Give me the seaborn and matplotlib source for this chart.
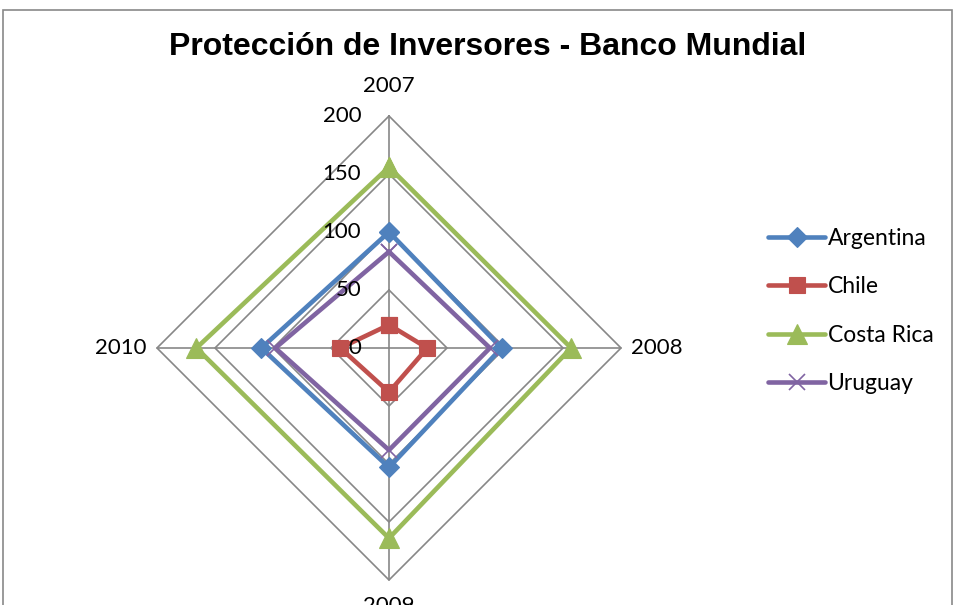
import numpy as np
import pandas as pd
import matplotlib
matplotlib.use("Agg")
import matplotlib.pyplot as plt
from matplotlib.patches import Rectangle
import seaborn as sns

# data
years = ["2007", "2008", "2009", "2010"]
countries = ["Argentina", "Chile", "Costa Rica", "Uruguay"]
argentina = [100, 97, 103, 110]
chile = [20, 33, 38, 42]
costa_rica = [156, 157, 164, 166]
uruguay = [83, 87, 88, 98]
ticks = [0, 50, 100, 150, 200]

values = [argentina, chile, costa_rica, uruguay]
colors = ["#4F81BD", "#C0504D", "#9BBB59", "#8064A2"]
markers = ["D", "s", "^", "x"]
msizes = [10, 11, 14, 12]

sns.set_style("white")
plt.rcParams["font.family"] = ["Lato", "DejaVu Sans"]
plt.rcParams["text.color"] = "black"

# angles clockwise from the top, one per year
theta = np.linspace(0, 2 * np.pi, len(years), endpoint=False)


def to_xy(r):
    r = np.asarray(r, dtype=float)
    return r * np.sin(theta), r * np.cos(theta)


W, H = 955, 605
cx, cy, rad = 389, 348, 232
k = 200 / rad

fig = plt.figure(figsize=(W / 100, H / 100), dpi=100)
ax = fig.add_axes([0, 0, 1, 1])
ax.set_xlim(-cx * k, (W - cx) * k)
ax.set_ylim(-(H - cy) * k, cy * k)
ax.axis("off")

grid_color = "#878787"
# diamond gridlines
for t in ticks[1:]:
    gx, gy = to_xy([t] * len(years))
    ax.plot(np.append(gx, gx[0]), np.append(gy, gy[0]), color=grid_color, lw=1.2, zorder=1)
# spokes
sx, sy = to_xy([200] * len(years))
for x, y in zip(sx, sy):
    ax.plot([0, x], [0, y], color=grid_color, lw=1.2, zorder=1)

handles = []
for name, vals, col, mk, ms in zip(countries, values, colors, markers, msizes):
    x, y = to_xy(vals)
    df = pd.DataFrame({"x": np.append(x, x[0]), "y": np.append(y, y[0])})
    sns.lineplot(data=df, x="x", y="y", sort=False, estimator=None, color=col,
                 marker=mk, markersize=ms, linewidth=3.3, ax=ax, zorder=3,
                 legend=False)
    line = ax.lines[-1]
    line.set_markeredgecolor(col)
    line.set_markerfacecolor(col)
    line.set_markeredgewidth(1.2 if mk == "x" else 0.8)
    handles.append(line)

if ax.get_legend() is not None:
    ax.get_legend().remove()

# tick labels along the 2007 spoke
for t in ticks:
    ax.text(-24, t, str(t), ha="right", va="center", fontsize=16)

# category labels
ax.text(0, 200 + 17, years[0], ha="center", va="bottom", fontsize=16)
ax.text(200 + 9, 0, years[1], ha="left", va="center", fontsize=16)
ax.text(0, -200 - 14, years[2], ha="center", va="top", fontsize=16)
ax.text(-200 - 9, 0, years[3], ha="right", va="center", fontsize=16)

fig.text(488 / W, 1 - 47 / H, "Protección de Inversores - Banco Mundial",
         ha="center", va="center", fontsize=23, fontweight="bold",
         family=["Liberation Sans", "DejaVu Sans"])

fig.legend(handles=handles, labels=countries, loc="upper left",
           bbox_to_anchor=(768 / W, 1 - 228 / H), frameon=False,
           fontsize=16.5, handlelength=2.5, handletextpad=0.1,
           labelspacing=1.2, borderpad=0, borderaxespad=0, numpoints=1)

# chart frame
fig.patches.append(Rectangle((3 / W, -0.05), (W - 6) / W, 1.05 - 10 / H,
                             transform=fig.transFigure, fill=False,
                             edgecolor="#898989", lw=1.2))

fig.savefig("out.png", dpi=100)
